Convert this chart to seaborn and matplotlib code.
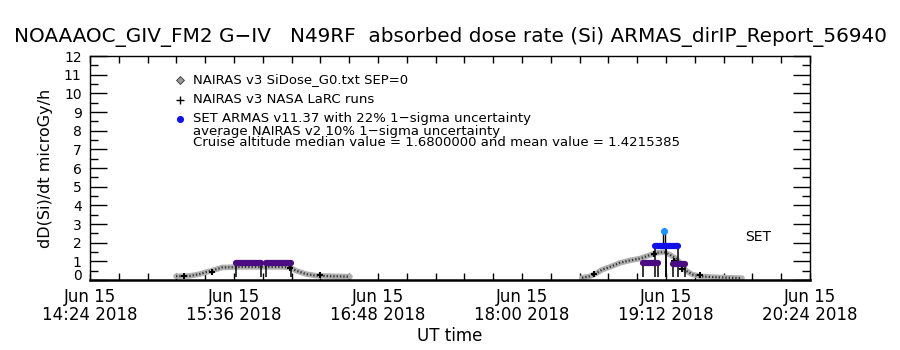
import numpy as np
import pandas as pd
import matplotlib
matplotlib.use("Agg")
import matplotlib.pyplot as plt
import seaborn as sns

# minutes after Jun 15 14:24 UT
g0_time_1 = [43, 50, 55, 58, 61, 66, 75, 85, 95, 100, 103, 108, 113, 122, 130]
g0_dose_1 = [0.2, 0.22, 0.32, 0.42, 0.5, 0.67, 0.7, 0.7, 0.7, 0.68, 0.5, 0.32, 0.23, 0.2, 0.18]
g0_time_2 = [246, 250, 253, 256, 260, 265, 270, 275, 279, 283, 287, 290, 293, 296, 298, 301, 305, 312, 320, 326]
g0_dose_2 = [0.12, 0.2, 0.35, 0.55, 0.7, 0.92, 1.05, 1.15, 1.3, 1.45, 1.5, 1.35, 1.15, 0.8, 0.5, 0.3, 0.2, 0.15, 0.12, 0.1]

larc_time = [47, 61, 100, 115, 252, 282, 292, 296, 305]
larc_dose = [0.2, 0.45, 0.62, 0.25, 0.3, 1.4, 1.0, 0.6, 0.25]

# average NAIRAS v2 segments (start, end, value)
v2_start = [73, 88, 276.5, 291.5]
v2_end = [85.5, 100.5, 284, 297.5]
v2_dose = [0.92, 0.92, 0.93, 0.88]

# SET ARMAS segments
armas_start = [282.5, 288]
armas_end = [288, 294]
armas_dose = [1.8, 1.8]
armas_pt_time = [287]
armas_pt_dose = [2.6]

tick_min = [0, 72, 144, 216, 288, 360]
tick_lab = ["Jun 15\n14:24 2018", "Jun 15\n15:36 2018", "Jun 15\n16:48 2018",
            "Jun 15\n18:00 2018", "Jun 15\n19:12 2018", "Jun 15\n20:24 2018"]

sns.set_style("white")
plt.rcParams["font.family"] = ["DejaVu Sans"]
plt.rcParams["text.color"] = "black"
plt.rcParams["axes.labelcolor"] = "black"
plt.rcParams["xtick.color"] = "black"
plt.rcParams["ytick.color"] = "black"

fig = plt.figure(figsize=(9, 3.5), dpi=100)
ax = fig.add_axes([0.1, 0.2, 0.8, 0.64])

# NAIRAS v3 SiDose_G0 profile (hatched grey band)
for t, d in [(g0_time_1, g0_dose_1), (g0_time_2, g0_dose_2)]:
    df = pd.DataFrame({"t": t, "d": d})
    sns.lineplot(data=df, x="t", y="d", ax=ax, color="#b0b0b0", lw=4, zorder=2)
    sns.lineplot(data=df, x="t", y="d", ax=ax, color="#333333", lw=1.6,
                 linestyle=(0, (0.6, 0.9)), zorder=2)

# segment end drops
for s, e, v in zip(v2_start + armas_start, v2_end + armas_end, v2_dose + armas_dose):
    ax.vlines([s, e], 0.15, v, color="black", lw=1.1, zorder=3)

# NASA LaRC runs
sns.scatterplot(x=larc_time, y=larc_dose, ax=ax, marker="P", color="black",
                s=14, linewidth=0, zorder=4)

ax.hlines(v2_dose, v2_start, v2_end, color="#4b0c82", lw=4.5, capstyle="round", zorder=5)
ax.hlines(armas_dose, armas_start, armas_end, color="#1010e8", lw=4.5, capstyle="round", zorder=6)
ax.vlines([armas_pt_time[0] - 0.5, armas_pt_time[0] + 0.5], armas_dose[0], armas_pt_dose[0],
          color="black", lw=1, zorder=5)
sns.scatterplot(x=armas_pt_time, y=armas_pt_dose, ax=ax, color="#1e90ff", s=26,
                linewidth=0, zorder=7)

ax.text(327.5, 2.3, "SET", fontsize=10, ha="left", va="center")

# legend drawn by hand
lx, tx = 0.125, 0.143
ax.scatter([lx], [0.893], transform=ax.transAxes, marker="D", s=16, color="#999999",
           edgecolor="#333333", linewidth=0.6, clip_on=False)
ax.scatter([lx], [0.804], transform=ax.transAxes, marker="+", s=30, color="black",
           linewidth=1, clip_on=False)
ax.scatter([lx], [0.719], transform=ax.transAxes, marker="o", s=26, color="#1010e8",
           linewidth=0, clip_on=False)
leg = ["NAIRAS v3 SiDose_G0.txt SEP=0", "NAIRAS v3 NASA LaRC runs",
       "SET ARMAS v11.37 with 22% 1\u2212sigma uncertainty",
       "average NAIRAS v2 10% 1\u2212sigma uncertainty",
       "Cruise altitude median value = 1.6800000 and mean value = 1.4215385"]
for yy, s in zip([0.893, 0.804, 0.719, 0.664, 0.612], leg):
    ax.text(tx, yy, s, transform=ax.transAxes, fontsize=9.5, va="center")

ax.set_xlim(0, 360)
ax.set_ylim(0, 12)
ax.set_xticks(tick_min)
ax.set_xticklabels(tick_lab, linespacing=1.0)
ax.set_xticks(np.arange(0, 361, 14.4), minor=True)
ax.set_yticks(range(0, 13))
ax.set_yticks(np.arange(0, 12.01, 0.5), minor=True)
ax.tick_params(axis="x", which="both", direction="in", top=True, bottom=True,
               length=5, width=1, labelsize=12, pad=6)
ax.tick_params(axis="y", which="major", direction="in", left=True, right=True,
               length=12, width=1, labelsize=10, pad=6)
ax.tick_params(axis="y", which="minor", direction="in", left=True, right=True,
               length=6, width=1)
ax.get_yticklabels()[0].set_va("baseline")
for sp in ax.spines.values():
    sp.set_color("black")
    sp.set_linewidth(1)
ax.spines["bottom"].set_linewidth(1.8)

ax.set_xlabel("UT time", fontsize=12, labelpad=2)
ax.set_ylabel("dD(Si)/dt microGy/h", fontsize=11.5, labelpad=8)
fig.text(0.5, 0.893, "NOAAAOC_GIV_FM2 G\u2212IV   N49RF  absorbed dose rate (Si) ARMAS_dirIP_Report_56940",
         ha="center", va="center", fontsize=14.4)

fig.savefig("out.png", dpi=100, facecolor="white")
